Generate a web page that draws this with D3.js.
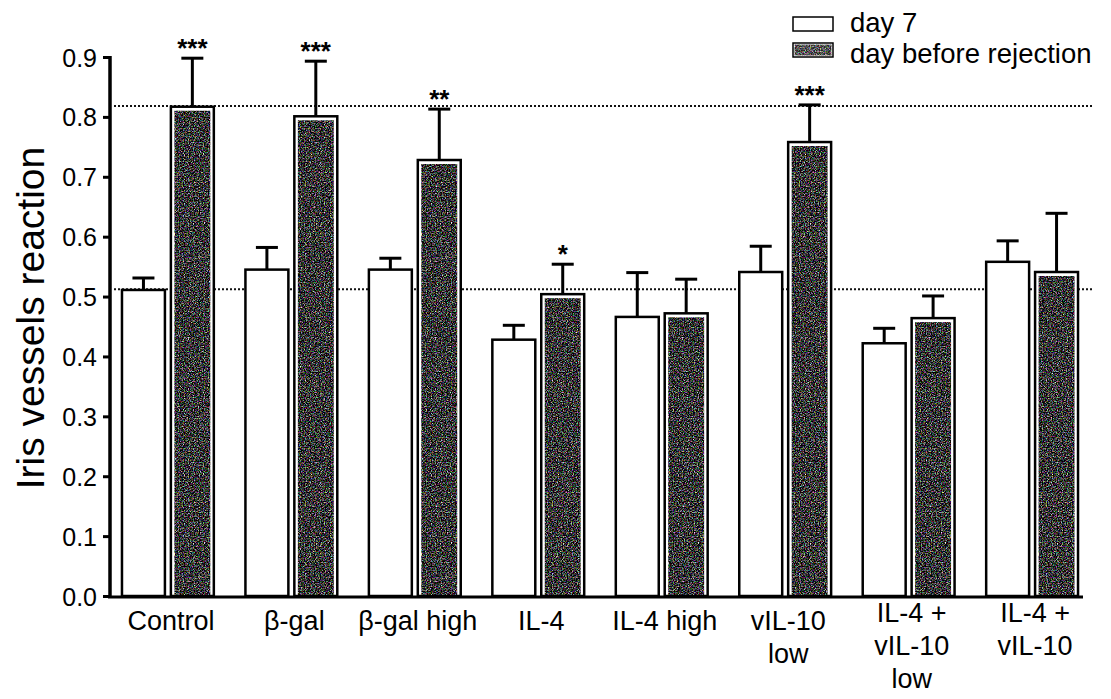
<!DOCTYPE html>
<html>
<head>
<meta charset="utf-8">
<script src="https://cdn.jsdelivr.net/npm/d3@7"></script>
<style>
  html, body { margin: 0; padding: 0; background: #fff; }
  svg { display: block; font-family: "Liberation Sans", Arial, sans-serif; }
</style>
</head>
<body>
<svg id="chart" width="1111" height="699"></svg>
<script>
// values
const categories = [
  ["Control"], ["β-gal"], ["β-gal high"], ["IL-4"], ["IL-4 high"],
  ["vIL-10", "low"], ["IL-4 +", "vIL-10", "low"], ["IL-4 +", "vIL-10"]
];
const series = ["day 7", "day before rejection"];
const day7 = [0.511, 0.545, 0.545, 0.428, 0.466, 0.541, 0.422, 0.558];
const day7Err = [0.020, 0.037, 0.019, 0.024, 0.074, 0.043, 0.025, 0.035];
const rejection = [0.817, 0.801, 0.728, 0.504, 0.472, 0.758, 0.464, 0.541];
const rejectionErr = [0.081, 0.092, 0.085, 0.050, 0.057, 0.062, 0.037, 0.098];
const stars = ["***", "***", "**", "*", "", "***", "", ""];
const refLines = [0.512, 0.818];
const yTicks = [0, 0.1, 0.2, 0.3, 0.4, 0.5, 0.6, 0.7, 0.8, 0.9];

const svg = d3.select("#chart");

// speckled texture for the dark bars
const defs = svg.append("defs");
const filt = defs.append("filter").attr("id", "speckle")
  .attr("x", 0).attr("y", 0).attr("width", 1).attr("height", 1)
  .attr("color-interpolation-filters", "sRGB");
filt.append("feTurbulence").attr("type", "fractalNoise")
  .attr("baseFrequency", 0.8).attr("numOctaves", 2).attr("seed", 7).attr("result", "t");
filt.append("feColorMatrix").attr("in", "t").attr("type", "matrix")
  .attr("values", "1.9 0.7 0.7 0 -1.45  0.7 1.9 0.7 0 -1.45  0.7 0.7 1.9 0 -1.45  0 0 0 0 1")
  .attr("result", "c");
filt.append("feComposite").attr("in", "c").attr("in2", "SourceGraphic").attr("operator", "in");

const x0 = d3.scaleBand()
  .domain(d3.range(categories.length))
  .range([110, 1090])
  .paddingInner(0.256)
  .paddingOuter(0.097);

const x1 = d3.scaleBand()
  .domain(series)
  .range([0, x0.bandwidth()])
  .paddingInner(0.122)
  .paddingOuter(0);

const y = d3.scaleLinear().domain([0, 0.9]).range([596, 57]);

// dotted reference lines (behind the bars)
svg.append("g").selectAll("line")
  .data(refLines)
  .join("line")
  .attr("x1", 114).attr("x2", 1092)
  .attr("y1", d => y(d)).attr("y2", d => y(d))
  .attr("stroke", "#111").attr("stroke-width", 2)
  .attr("stroke-dasharray", "2,2");

const rows = categories.map((c, i) => ({
  i,
  vals: [
    { s: series[0], v: day7[i], e: day7Err[i] },
    { s: series[1], v: rejection[i], e: rejectionErr[i] }
  ]
}));

const groups = svg.append("g").selectAll("g")
  .data(rows)
  .join("g")
  .attr("transform", d => `translate(${x0(d.i)},0)`);

const bars = groups.selectAll("g.bar")
  .data(d => d.vals)
  .join("g")
  .attr("class", "bar");

// error bars
bars.append("line")
  .attr("x1", d => x1(d.s) + x1.bandwidth() / 2)
  .attr("x2", d => x1(d.s) + x1.bandwidth() / 2)
  .attr("y1", d => y(d.v)).attr("y2", d => y(d.v + d.e))
  .attr("stroke", "#000").attr("stroke-width", 3);
bars.append("line")
  .attr("x1", d => x1(d.s) + x1.bandwidth() / 2 - 11)
  .attr("x2", d => x1(d.s) + x1.bandwidth() / 2 + 11)
  .attr("y1", d => y(d.v + d.e)).attr("y2", d => y(d.v + d.e))
  .attr("stroke", "#000").attr("stroke-width", 3);

bars.append("rect")
  .attr("x", d => x1(d.s))
  .attr("y", d => y(d.v))
  .attr("width", x1.bandwidth())
  .attr("height", d => y(0) - y(d.v))
  .attr("fill", "#fff")
  .attr("stroke", "#000")
  .attr("stroke-width", 2.5);

bars.filter(d => d.s === series[1]).append("rect")
  .attr("x", d => x1(d.s) + 3.5)
  .attr("y", d => y(d.v) + 4)
  .attr("width", x1.bandwidth() - 7)
  .attr("height", d => y(0) - y(d.v) - 5)
  .attr("fill", "#333")
  .attr("filter", "url(#speckle)");

// significance stars
groups.append("text")
  .attr("x", x1(series[1]) + x1.bandwidth() / 2)
  .attr("y", d => y(rejection[d.i] + rejectionErr[d.i]) - 1)
  .attr("text-anchor", "middle")
  .attr("font-size", 26)
  .attr("font-weight", "bold")
  .text(d => stars[d.i]);

// axes
const yAxis = svg.append("g")
  .attr("transform", "translate(110,0)")
  .call(d3.axisLeft(y).tickValues(yTicks).tickFormat(d3.format(".1f"))
    .tickSize(7).tickSizeOuter(0).tickPadding(6));
yAxis.select(".domain").attr("stroke-width", 3.5).attr("d", `M0,${y(0) + 2}V${y(0.9) - 1}`);
yAxis.selectAll(".tick line").attr("stroke-width", 3);
yAxis.selectAll(".tick text")
  .attr("font-size", 25)
  .attr("font-family", "'Liberation Sans', Arial, sans-serif")
  .attr("fill", "#000")
  .attr("dy", "0.36em");

svg.append("line")
  .attr("x1", 108).attr("x2", 1083)
  .attr("y1", y(0) + 1).attr("y2", y(0) + 1)
  .attr("stroke", "#000").attr("stroke-width", 3);

// category labels
const lab = svg.append("g").selectAll("text")
  .data(rows)
  .join("text")
  .attr("text-anchor", "middle")
  .attr("font-size", 27)
  .attr("fill", "#000")
  .attr("transform", d => {
    const top = categories[d.i][0].includes("+") ? 622 : 630;
    return `translate(${x0(d.i) + x0.bandwidth() / 2 + 3},${top})`;
  });
lab.selectAll("tspan")
  .data(d => categories[d.i])
  .join("tspan")
  .attr("x", 0)
  .attr("dy", (t, k) => k === 0 ? 0 : 33)
  .text(t => t);

// y axis title
svg.append("text")
  .attr("transform", "translate(44,318) rotate(-90)")
  .attr("text-anchor", "middle")
  .attr("font-size", 39)
  .attr("fill", "#000")
  .text("Iris vessels reaction");

// legend
const legend = svg.append("g").attr("transform", "translate(793,0)");
series.forEach((s, k) => {
  const ly = 17 + k * 26;
  legend.append("rect")
    .attr("x", 0).attr("y", ly).attr("width", 40).attr("height", 14)
    .attr("fill", "#fff").attr("stroke", "#000").attr("stroke-width", 1.5);
  if (k === 1) {
    legend.append("rect")
      .attr("x", 1.5).attr("y", ly + 1.5).attr("width", 37).attr("height", 11)
      .attr("fill", "#555").attr("filter", "url(#speckle)").attr("opacity", 0.85);
  }
  legend.append("text")
    .attr("x", 57).attr("y", 32 + k * 31)
    .attr("font-size", 27.5)
    .attr("fill", "#000")
    .text(s);
});
</script>
</body>
</html>
